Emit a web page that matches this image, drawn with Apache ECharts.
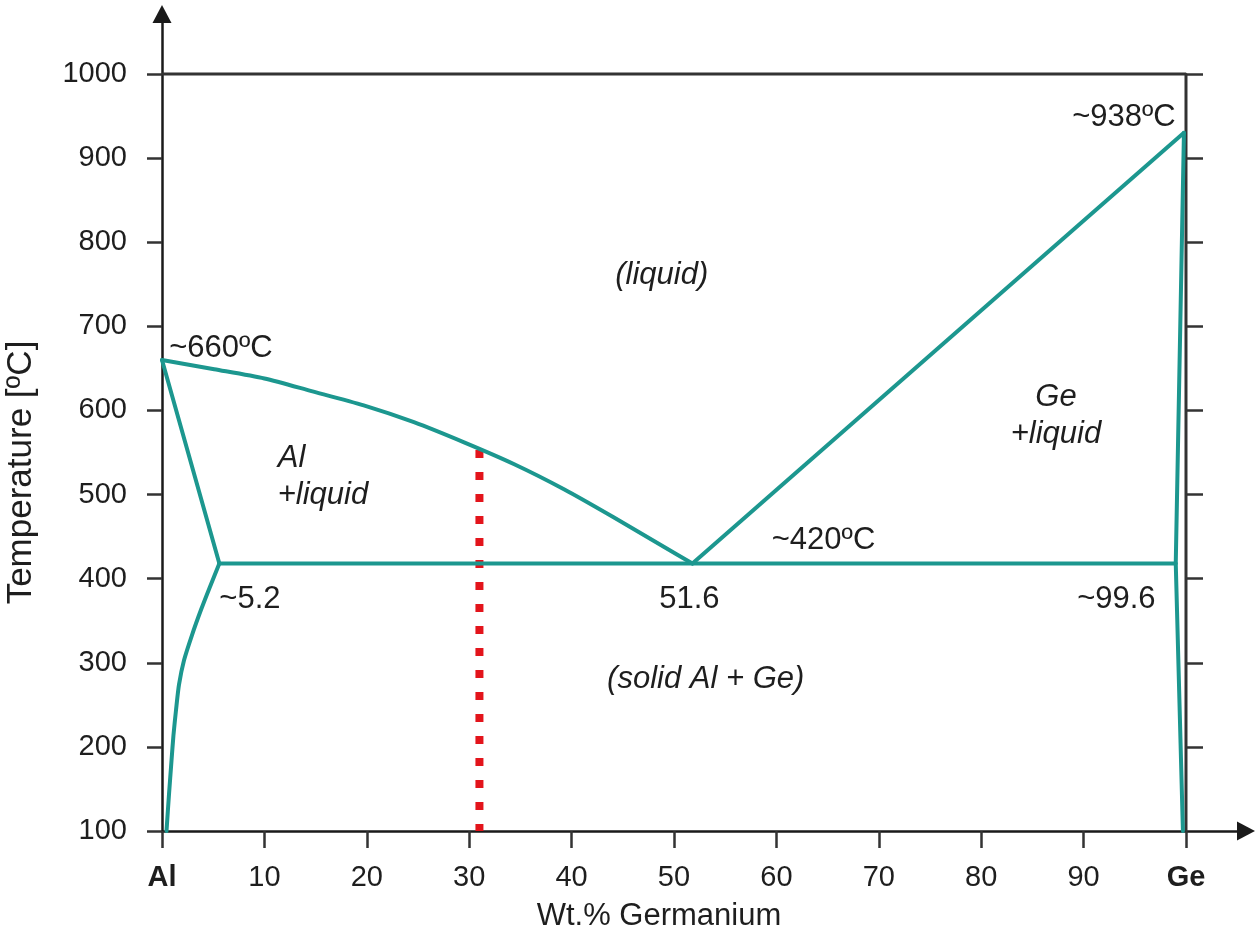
<!DOCTYPE html>
<html>
<head>
<meta charset="utf-8">
<script src="https://cdn.jsdelivr.net/npm/echarts@6/dist/echarts.min.js"></script>
<style>
html,body{margin:0;padding:0;background:#fff;}
#chart{width:1256px;height:940px;}
</style>
</head>
<body>
<div id="chart"></div>
<script>
// ---- data ----
const xTicks = [0, 10, 20, 30, 40, 50, 60, 70, 80, 90, 100];
const yTicks = [100, 200, 300, 400, 500, 600, 700, 800, 900, 1000];
const yTicksRight = [200, 300, 400, 500, 600, 700, 800, 900, 1000];
const xEndLabels = { 0: 'Al', 100: 'Ge' };

const liquidusAl = [[0, 660], [5.1, 649], [10.0, 638], [14.6, 623], [19.7, 606], [24.6, 586], [29.5, 562],
                    [34.4, 536], [39.3, 506], [44.1, 473], [49.0, 438], [51.8, 418]];
const solidusAl = [[0, 660], [5.6, 418]];
const solvusAl = [[5.6, 418], [4.64, 389], [3.81, 363], [2.93, 333], [2.15, 303], [1.66, 274], [1.37, 244],
                  [1.12, 214], [0.93, 184], [0.68, 143], [0.44, 100]];
const eutectic = [[5.6, 418], [99.0, 418]];
const liquidusGe = [[51.8, 418], [99.8, 930]];
const solvusGe = [[99.8, 930], [99.0, 418], [99.7, 100]];
const frame = [[0, 1000], [100, 1000], [100, 100]];
const sampleLine = [[31.0, 553], [31.0, 100]];

// annotation texts with anchor (x, T) in data units
const annoText = ['~938ºC', '(liquid)', '~660ºC', 'Al', '+liquid', 'Ge', '+liquid', '~420ºC', '~5.2', '51.6', '~99.6', '(solid Al + Ge)'];
const annoX = [99.0, 48.8, 0.7, 11.3, 11.3, 87.3, 87.3, 64.6, 5.6, 51.5, 93.2, 53.1];
const annoY = [948, 761, 674, 543, 499, 616, 571, 445, 375, 375, 375, 280];
const annoAlign = ['right', 'center', 'left', 'left', 'left', 'center', 'center', 'center', 'left', 'center', 'center', 'center'];
const annoItalic = [false, true, false, true, true, true, true, false, false, false, false, true];

// ---- chart ----
const TEAL = '#1c978f';
const TEXT = '#1e1e1e';
const FONT = 'Liberation Sans, Arial, sans-serif';
const chart = echarts.init(document.getElementById('chart'), null, { renderer: 'canvas' });

function lineSeries(name, data, extra) {
  return Object.assign({
    name: name, type: 'line', data: data, showSymbol: false, symbol: 'none',
    silent: true, animation: false, clip: false,
    lineStyle: { color: TEAL, width: 4, join: 'round', cap: 'round' }, z: 5
  }, extra || {});
}

const annoData = annoText.map((t, i) => ({
  value: [annoX[i], annoY[i]],
  label: {
    show: true, position: [0, 0], formatter: t, align: annoAlign[i], verticalAlign: 'middle',
    fontStyle: annoItalic[i] ? 'italic' : 'normal', color: TEXT, textBorderWidth: 0, fontSize: 31, fontFamily: FONT
  }
}));

const option = {
  animation: false,
  backgroundColor: '#fff',
  grid: { left: 162, right: 10, top: 14, bottom: 109, containLabel: false, outerBoundsMode: 'none' },
  xAxis: {
    type: 'value', min: 0, max: 105.86,
    name: 'Wt.% Germanium', nameLocation: 'middle', nameGap: 70,
    nameTextStyle: { fontSize: 31, color: TEXT, fontFamily: FONT, padding: [0, 90, 0, 0] },
    axisLine: { show: true, symbol: ['none', 'triangle'], symbolSize: [19, 18], lineStyle: { color: '#1a1a1a', width: 2.5 } },
    axisTick: { show: true, customValues: xTicks, length: 17, lineStyle: { color: '#333', width: 2.5 } },
    axisLabel: {
      show: true, customValues: xTicks, margin: 32, fontSize: 29, color: TEXT, fontFamily: FONT,
      formatter: v => xEndLabels[v] !== undefined ? '{b|' + xEndLabels[v] + '}' : String(v),
      rich: { b: { fontWeight: 'bold', fontSize: 29, color: TEXT, fontFamily: FONT } }
    },
    splitLine: { show: false }
  },
  yAxis: [{
    type: 'value', min: 100, max: 1071.3, position: 'left',
    name: 'Temperature [ºC]', nameLocation: 'middle', nameGap: 123, nameRotate: 90,
    nameTextStyle: { fontSize: 35, color: TEXT, fontFamily: FONT, padding: [0, 100, 0, 0] },
    axisLine: { show: true, symbol: ['none', 'triangle'], symbolSize: [19, 18], lineStyle: { color: '#1a1a1a', width: 2.5 } },
    axisTick: { show: true, customValues: yTicks, length: 15, lineStyle: { color: '#333', width: 2.5 } },
    axisLabel: { show: true, customValues: yTicks, margin: 35, fontSize: 29, color: TEXT, fontFamily: FONT, formatter: v => String(v) },
    splitLine: { show: false }
  }, {
    type: 'value', min: 100, max: 1071.3, position: 'right', offset: -61,
    axisLine: { show: false },
    axisTick: { show: true, customValues: yTicksRight, length: 18, lineStyle: { color: '#333', width: 2.5 } },
    axisLabel: { show: false },
    splitLine: { show: false }
  }],
  series: [
    lineSeries('sample', sampleLine, { lineStyle: { color: '#e3141b', width: 8, type: [8, 14], cap: 'butt' }, z: 3 }),
    lineSeries('frame', frame, { lineStyle: { color: '#333', width: 3 }, z: 2 }),
    lineSeries('liquidusAl', liquidusAl, { smooth: 0.25 }),
    lineSeries('solidusAl', solidusAl),
    lineSeries('solvusAl', solvusAl, { smooth: 0.25 }),
    lineSeries('eutectic', eutectic),
    lineSeries('liquidusGe', liquidusGe),
    lineSeries('solvusGe', solvusGe),
    {
      name: 'annotations', type: 'scatter', data: annoData, symbolSize: 0, silent: true, z: 10,
      itemStyle: { opacity: 1 },
      label: { show: true, fontSize: 31, color: TEXT, fontFamily: FONT }
    }
  ]
};
chart.setOption(option);
</script>
</body>
</html>
